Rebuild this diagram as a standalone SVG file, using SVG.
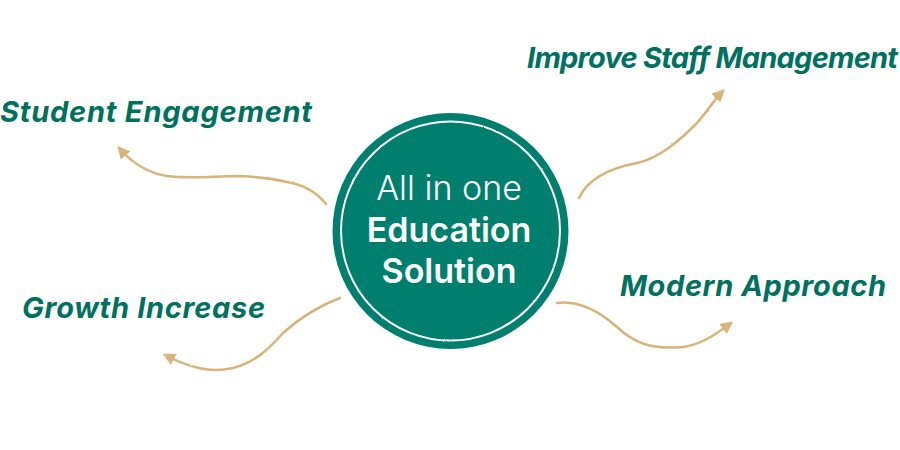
<svg xmlns="http://www.w3.org/2000/svg" width="900" height="450" viewBox="0 0 900 450">
<style>
.lbl{font-family:Inter,"Open Sans","Liberation Sans",sans-serif;font-weight:700;font-style:italic;font-size:29px;fill:#00705F}
.ctr{font-family:Inter,"Liberation Sans",sans-serif;font-size:34px;fill:#ffffff;text-anchor:middle}
.arr{fill:none;stroke:#D8B37A;stroke-width:2.5;stroke-linecap:round;marker-end:url(#ah)}
</style>
<defs>
<marker id="ah" viewBox="0 0 10 10" refX="8" refY="5" markerWidth="5" markerHeight="5" markerUnits="strokeWidth" orient="auto">
<path d="M0,0 L10,5 L0,10 Z" fill="#D8B37A"/>
</marker>
<filter id="rough" x="-5%" y="-5%" width="110%" height="110%">
<feTurbulence type="fractalNoise" baseFrequency="0.6" numOctaves="2" seed="3"/>
<feDisplacementMap in="SourceGraphic" scale="1.6" xChannelSelector="R" yChannelSelector="G"/>
</filter>
</defs>
<rect width="900" height="450" fill="#ffffff"/>
<g id="center">
<circle cx="450.5" cy="231" r="118" fill="#007F6E"/>
<circle cx="450.5" cy="231" r="109.5" fill="none" stroke="#ffffff" stroke-width="2" filter="url(#rough)"/>
<text class="ctr" x="449" y="200" font-weight="300">All in one</text>
<text class="ctr" x="449" y="242" font-weight="600">Education</text>
<text class="ctr" x="449" y="283" font-weight="600">Solution</text>
</g>
<g id="student"><text class="lbl" x="0" y="122" textLength="312">Student Engagement</text></g>
<g id="improve"><text class="lbl" x="527" y="68" font-size="28" textLength="371">Improve Staff Management</text></g>
<g id="modern"><text class="lbl" x="620" y="296" textLength="266">Modern Approach</text></g>
<g id="growth"><text class="lbl" x="22" y="318" textLength="243">Growth Increase</text></g>
<g id="connectors" filter="url(#rough)">
<path class="arr" d="M326,204 C318,194 305,185 287,182 C270,178 260,177 240,176 C215,176 190,179 167,176 C148,173 132,163 119,148"/>
<path class="arr" d="M340,298 C318,306 300,318 283,333 C268,350 255,362 233,368 C210,373 190,368 165,355"/>
<path class="arr" d="M579,198 C585,185 600,170 637,163 C660,158 680,140 697,123 C706,113 714,100 723,91"/>
<path class="arr" d="M557,303 C580,300 600,312 617,327 C633,342 650,350 683,347 C700,345 715,335 731,323"/>
</g>
</svg>
